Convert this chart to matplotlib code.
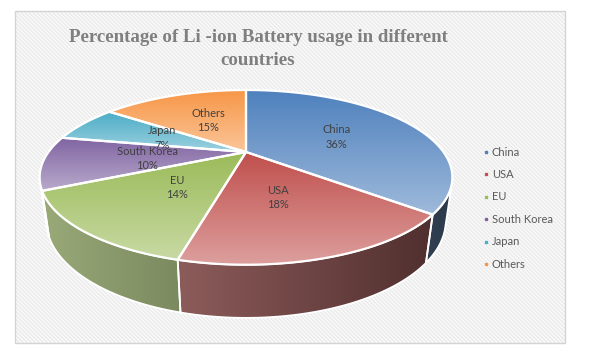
import numpy as np
import matplotlib
matplotlib.use('Agg')
import matplotlib.pyplot as plt
from matplotlib.patches import Polygon, Rectangle
import matplotlib.colors as mcolors

# ---------------- data ----------------
categories = ['China', 'USA', 'EU', 'South Korea', 'Japan', 'Others']
shares = [36, 18, 14, 10, 7, 15]
colors = ['#4f81bd', '#c0504d', '#9bbb59', '#8064a2', '#4bacc6', '#f79646']
title_text = 'Percentage of Li -ion Battery usage in different\ncountries'

# ---------------- layout ----------------
W, H = 589, 360
fig = plt.figure(figsize=(W / 100, H / 100), dpi=100)
ax = fig.add_axes([0, 0, 1, 1])
ax.axis('off')

# background frame with fine diagonal stripes
FX0, FX1, FY0, FY1 = 15, 565, 11, 343
yy, xx = np.mgrid[0:FY1 - FY0, 0:FX1 - FX0]
stripe = ((xx - yy) % 4) < 2
bg = np.where(stripe[..., None], np.array([236, 236, 236]) / 255, np.array([248, 248, 248]) / 255)
ax.imshow(bg, extent=(FX0, FX1, FY1, FY0), origin='upper', aspect='auto',
          interpolation='nearest', zorder=0)
ax.add_patch(Rectangle((FX0, FY0), FX1 - FX0, FY1 - FY0, facecolor='none',
                       edgecolor='#d4d4d4', lw=1.0, zorder=1))

# perspective projection of the 3D pie
CX, CY = 246, 152
F = 622.0
ELEV = np.radians(23.9)
D0 = 3.15
HGT = 0.237
se, ce = np.sin(ELEV), np.cos(ELEV)


def proj(x, y, z):
    d = D0 + y * ce - z * se
    u = y * se + z * ce
    return CX + F * x / d, CY - F * u / d


def grad_image(poly, img, zorder):
    xs, ys = poly[:, 0], poly[:, 1]
    im = ax.imshow(img, extent=(xs.min(), xs.max(), ys.max(), ys.min()), origin='upper',
                   aspect='auto', interpolation='bilinear', zorder=zorder)
    clip = Polygon(poly, closed=True, facecolor='none', edgecolor='none', transform=ax.transData)
    im.set_clip_path(clip)
    return im


def lighten(rgb, t):
    return rgb + (1 - rgb) * t


total = float(sum(shares))
cum = np.concatenate([[0], np.cumsum(shares)]) / total * 360.0  # clockwise from 12 o'clock
thr = -1.0 / (D0 * ce)  # walls facing the viewer where sin(phi) < thr

walls = []
tops = []
for i in range(len(shares)):
    t0, t1 = cum[i], cum[i + 1]
    phis = np.radians(90 - np.linspace(t0, t1, 200))
    base = np.array(mcolors.to_rgb(colors[i]))
    # top face
    ax_, ay_ = proj(np.cos(phis), np.sin(phis), 0.0)
    cx0, cy0 = proj(0.0, 0.0, 0.0)
    top = np.column_stack([np.concatenate([[cx0], ax_]), np.concatenate([[cy0], ay_])])
    tops.append((top, base))
    # visible side wall
    m = np.sin(phis) < thr
    if m.sum() > 1:
        ph = phis[m]
        tx, ty = proj(np.cos(ph), np.sin(ph), 0.0)
        bx, by = proj(np.cos(ph), np.sin(ph), -HGT)
        wall = np.column_stack([np.concatenate([tx, bx[::-1]]), np.concatenate([ty, by[::-1]])])
        walls.append((wall, base))

# draw walls (horizontal shading: lighter on the left, darker on the right)
for wall, base in walls:
    xs = np.linspace(wall[:, 0].min(), wall[:, 0].max(), 80)
    f = np.clip((xs - 180) / 250.0, -1.2, 1.2)
    k = 0.43 - 0.133 * f
    mm = (57 - 33 * f) / 255.0
    img = np.clip(base[None, :] * k[:, None] + mm[:, None], 0, 1)[None, :, :]
    grad_image(wall, img, 2)
    ax.add_patch(Polygon(wall, closed=True, facecolor='none', edgecolor='white', lw=1.3, zorder=2.5))

# draw tops (vertical gradient: base colour at top, lighter at bottom)
for top, base in tops:
    t = np.linspace(0, 1, 64)[:, None]
    img = (base[None, :] * (1 - t) + lighten(base, 0.45)[None, :] * t)[:, None, :]
    grad_image(top, img, 3)
for top, base in tops:
    ax.add_patch(Polygon(top, closed=True, facecolor='none', edgecolor='white', lw=1.6,
                         joinstyle='round', zorder=3.5))

# data labels
label_nudge = [(6, 1), (-3, 1), (2, 1), (1, 1), (2, 1), (2, 0)]
for i, (cat, v) in enumerate(zip(categories, shares)):
    mid = np.radians(90 - (cum[i] + cum[i + 1]) / 2)
    lx, ly = proj(0.5 * np.cos(mid), 0.5 * np.sin(mid), 0.0)
    lx += label_nudge[i][0]
    ly += label_nudge[i][1]
    ax.text(lx, ly, f'{cat}\n{v / total * 100:.0f}%', ha='center', va='center',
            fontsize=8, family='Lato', color='#404040', linespacing=1.35, zorder=5)

# title
for j, line in enumerate(title_text.split('\n')):
    ax.text(258, 42 + 23 * j, line, ha='center', va='baseline', fontsize=13.6,
            family='Liberation Serif', fontweight='bold', color='#7f7f7f', zorder=5)

# legend
for i, cat in enumerate(categories):
    y = 152 + 22.4 * i
    ax.plot([486], [y], marker='s', markersize=1.6, color=colors[i], linestyle='none', zorder=5)
    ax.text(492, y, cat, ha='left', va='center', fontsize=8, family='Lato',
            color='#595959', zorder=5)

ax.set_xlim(0, W)
ax.set_ylim(H, 0)
fig.savefig('out.png', dpi=100, facecolor='white')
